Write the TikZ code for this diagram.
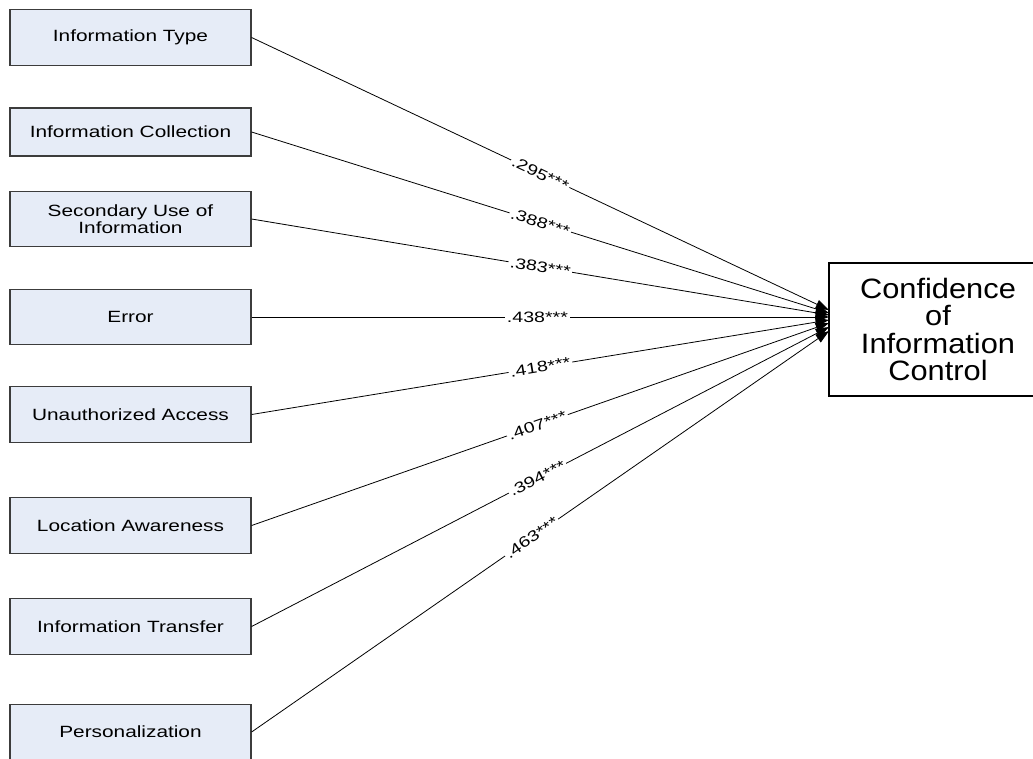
\documentclass[tikz,border=0pt]{standalone}
\usepackage{fontspec}
\setmainfont{Liberation Sans}
\newfontfamily\boxfont[FakeStretch=1.28]{Liberation Sans}
\newfontfamily\labfont[FakeStretch=1.3]{Liberation Sans}
\newfontfamily\titfont[FakeStretch=1.1]{Liberation Sans}
\usetikzlibrary{arrows.meta}
\definecolor{boxfill}{RGB}{230,236,247}
\definecolor{boxline}{RGB}{60,60,60}
\begin{document}
\begin{tikzpicture}[x=0.75pt,y=-0.75pt,
  inbox/.style={draw=boxline, line width=0.9pt, fill=boxfill, minimum width=180.75pt,
    minimum height=41.5pt, align=center, inner sep=0pt,
    font=\boxfont\fontsize{12.2}{12.8}\selectfont},
  outbox/.style={draw=black, line width=0.9pt, fill=white, minimum width=163.5pt,
    minimum height=99.75pt, align=center, inner sep=0pt,
    font=\titfont\fontsize{21}{20.3}\selectfont},
  path/.style={draw=black, line width=0.6pt, -{Triangle[length=10pt,width=7pt]}},
  coef/.style={sloped, fill=white, inner xsep=1.2pt, inner ysep=0.3pt,
    font=\labfont\fontsize{11.3}{12}\selectfont}
]
\useasboundingbox (0,0) rectangle (1033,758);

\node[inbox] (b1) at (130.5,37.5) {Information Type};
\node[inbox, minimum height=36pt] (b2) at (130.5,132) {Information Collection};
\node[inbox] (b3) at (130.5,219) {Secondary Use of\\Information};
\node[inbox] (b4) at (130.5,317) {Error};
\node[inbox] (b5) at (130.5,414.5) {Unauthorized Access};
\node[inbox] (b6) at (130.5,525.5) {Location Awareness};
\node[inbox] (b7) at (130.5,626.5) {Information Transfer};
\node[inbox] (b8) at (130.5,732) {Personalization};

\node[outbox] (c) at (938,329.5) {Confidence\\of\\Information\\Control};

\coordinate (t1) at (829,310);
\coordinate (t2) at (829,313);
\coordinate (t3) at (829,315);
\coordinate (t4) at (829,317);
\coordinate (t5) at (829,320);
\coordinate (t6) at (829,323);
\coordinate (t7) at (829,327);
\coordinate (t8) at (829,331);

\draw[path] (b1.east) -- node[coef, pos=0.5] {.295***} (t1);
\draw[path] (b2.east) -- node[coef, pos=0.5] {.388***} (t2);
\draw[path] (b3.east) -- node[coef, pos=0.5] {.383***} (t3);
\draw[path] (b4.east) -- node[coef, pos=0.495] {.438***} (t4);
\draw[path] (b5.east) -- node[coef, pos=0.5] {.418***} (t5);
\draw[path] (b6.east) -- node[coef, pos=0.495] {.407***} (t6);
\draw[path] (b7.east) -- node[coef, pos=0.495] {.394***} (t7);
\draw[path] (b8.east) -- node[coef, pos=0.485] {.463***} (t8);
\end{tikzpicture}
\end{document}
